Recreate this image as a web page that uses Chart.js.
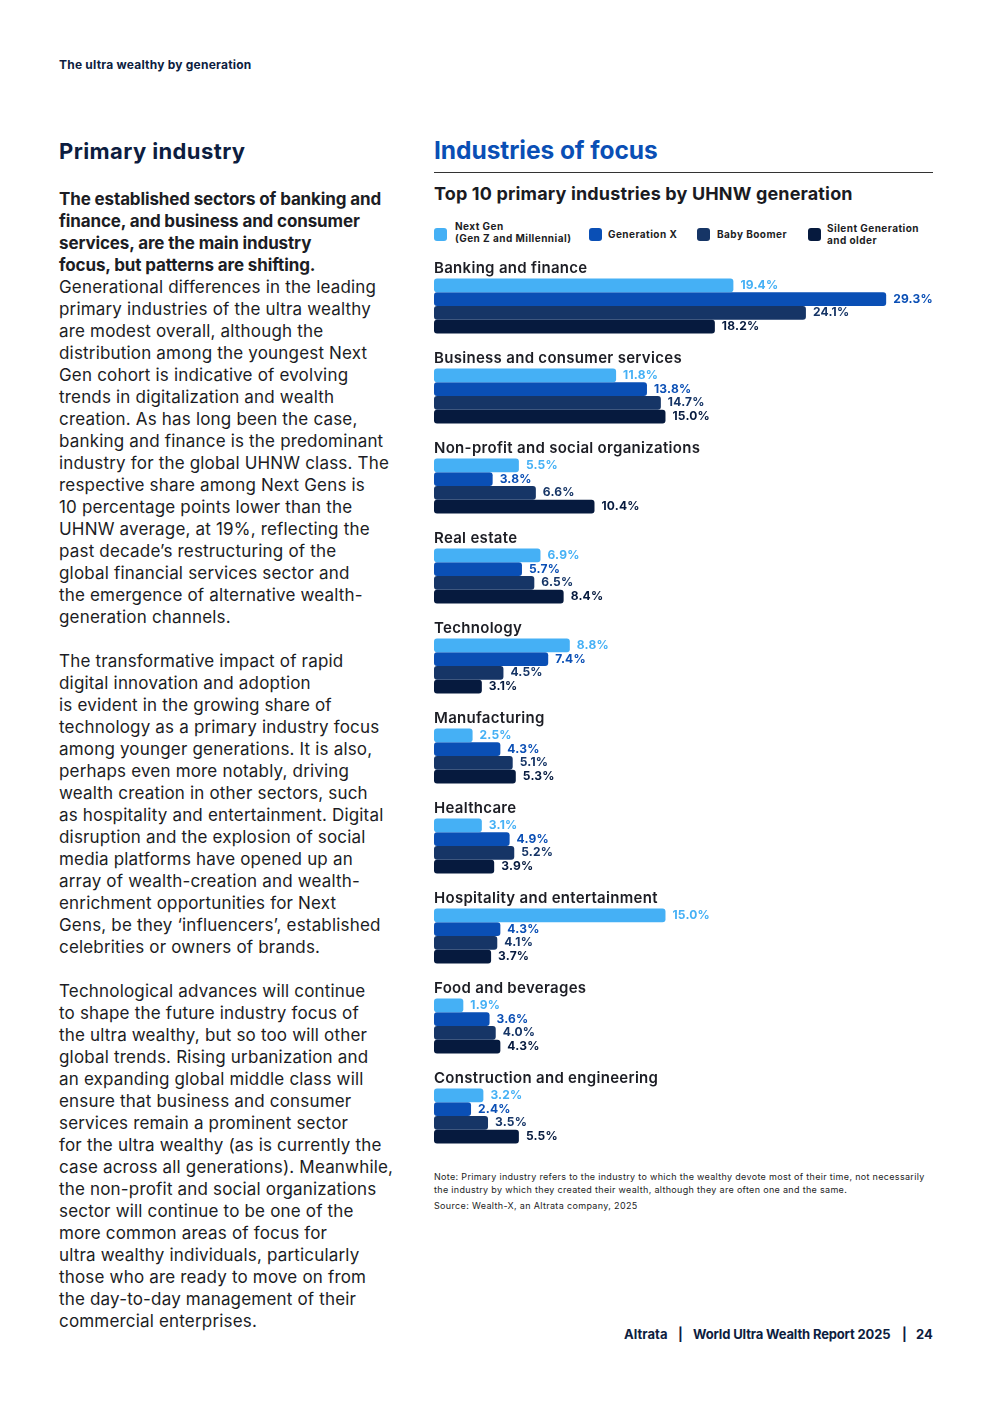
<!DOCTYPE html>
<html>
<head>
<meta charset="utf-8">
<script src="https://cdn.jsdelivr.net/npm/chart.js@4.4.1/dist/chart.umd.min.js"></script>
<style>
  html,body{margin:0;padding:0;background:#fff;}
  body{width:992px;height:1403px;position:relative;font-family:Inter,"Noto Sans",sans-serif;color:#1c1d24;overflow:hidden;}
  .abs{position:absolute;white-space:nowrap;}
  #hdr{left:59px;top:57px;font-size:12px;font-weight:700;color:#0d1d40;letter-spacing:0.22px;}
  #h1{left:59px;top:138px;font-size:22px;font-weight:700;color:#0d1d40;letter-spacing:0.4px;}
  #body{left:59px;top:188px;font-size:17px;line-height:22px;letter-spacing:0.18px;color:#1c1d24;}
  #body b{font-weight:700;color:#1c1d24;letter-spacing:-0.13px;}
  #h2{left:434px;top:135px;font-size:24.5px;font-weight:700;color:#0a4fb5;letter-spacing:-0.05px;}
  #rule{left:434px;top:172px;width:499px;height:1px;background:#333;}
  #h3{left:434px;top:183px;font-size:18px;font-weight:700;color:#1a1b22;letter-spacing:0.15px;}
  .lg{position:absolute;top:228px;width:13px;height:13px;border-radius:3px;}
  .lt{position:absolute;font-size:10px;font-weight:700;line-height:12px;color:#1c1d24;white-space:nowrap;letter-spacing:0.45px;}
  #note{left:434px;top:1171px;font-size:9px;line-height:12.5px;color:#1c1d24;letter-spacing:0.32px;}
  #src{left:434px;top:1200px;font-size:9px;color:#1c1d24;letter-spacing:0.34px;}
  #foot{left:624px;top:1326px;font-size:13px;font-weight:700;color:#0d1d40;letter-spacing:0.05px;}
  #foot span{position:absolute;top:0;white-space:nowrap;}
  #chartwrap{position:absolute;left:434px;top:250px;width:500px;height:915px;}
</style>
</head>
<body>
<div class="abs" id="hdr">The ultra wealthy by generation</div>
<div class="abs" id="h1">Primary industry</div>
<div class="abs" id="body"><b>The established sectors of banking and<br>finance, and business and consumer<br>services, are the main industry<br>focus, but patterns are shifting.</b><br>Generational differences in the leading<br>primary industries of the ultra wealthy<br>are modest overall, although the<br>distribution among the youngest Next<br>Gen cohort is indicative of evolving<br>trends in digitalization and wealth<br>creation. As has long been the case,<br>banking and finance is the predominant<br>industry for the global UHNW class. The<br>respective share among Next Gens is<br>10 percentage points lower than the<br>UHNW average, at 19%, reflecting the<br>past decade’s restructuring of the<br>global financial services sector and<br>the emergence of alternative wealth-<br>generation channels.<br><br>The transformative impact of rapid<br>digital innovation and adoption<br>is evident in the growing share of<br>technology as a primary industry focus<br>among younger generations. It is also,<br>perhaps even more notably, driving<br>wealth creation in other sectors, such<br>as hospitality and entertainment. Digital<br>disruption and the explosion of social<br>media platforms have opened up an<br>array of wealth-creation and wealth-<br>enrichment opportunities for Next<br>Gens, be they ‘influencers’, established<br>celebrities or owners of brands.<br><br>Technological advances will continue<br>to shape the future industry focus of<br>the ultra wealthy, but so too will other<br>global trends. Rising urbanization and<br>an expanding global middle class will<br>ensure that business and consumer<br>services remain a prominent sector<br>for the ultra wealthy (as is currently the<br>case across all generations). Meanwhile,<br>the non-profit and social organizations<br>sector will continue to be one of the<br>more common areas of focus for<br>ultra wealthy individuals, particularly<br>those who are ready to move on from<br>the day-to-day management of their<br>commercial enterprises.</div>

<div class="abs" id="h2">Industries of focus</div>
<div class="abs" id="rule"></div>
<div class="abs" id="h3">Top 10 primary industries by UHNW generation</div>

<div class="lg" style="left:434px;background:#45b0f5"></div>
<div class="lt" style="left:455px;top:220px">Next Gen<br>(Gen Z and Millennial)</div>
<div class="lg" style="left:589px;background:#0a4fb5"></div>
<div class="lt" style="left:608px;top:228px">Generation X</div>
<div class="lg" style="left:697px;background:#163566"></div>
<div class="lt" style="left:717px;top:228px">Baby Boomer</div>
<div class="lg" style="left:808px;background:#061a3e"></div>
<div class="lt" style="left:827px;top:222px">Silent Generation<br>and older</div>

<div id="chartwrap"><canvas id="c"></canvas></div>

<div class="abs" id="note">Note: Primary industry refers to the industry to which the wealthy devote most of their time, not necessarily<br>the industry by which they created their wealth, although they are often one and the same.</div>
<div class="abs" id="src">Source: Wealth-X, an Altrata company, 2025</div>
<div class="abs" id="foot"><span style="left:0">Altrata</span><span style="left:54px">|</span><span style="left:69px;letter-spacing:-0.15px">World Ultra Wealth Report 2025</span><span style="left:278px">|</span><span style="left:292px">24</span></div>

<script>
const categories = [
  "Banking and finance",
  "Business and consumer services",
  "Non-profit and social organizations",
  "Real estate",
  "Technology",
  "Manufacturing",
  "Healthcare",
  "Hospitality and entertainment",
  "Food and beverages",
  "Construction and engineering"
];
const seriesNames = ["Next Gen (Gen Z and Millennial)", "Generation X", "Baby Boomer", "Silent Generation and older"];
const nextGen   = [19.4, 11.8, 5.5, 6.9, 8.8, 2.5, 3.1, 15.0, 1.9, 3.2];
const genX      = [29.3, 13.8, 3.8, 5.7, 7.4, 4.3, 4.9, 4.3, 3.6, 2.4];
const babyBoom  = [24.1, 14.7, 6.6, 6.5, 4.5, 5.1, 5.2, 4.1, 4.0, 3.5];
const silentGen = [18.2, 15.0, 10.4, 8.4, 3.1, 5.3, 3.9, 3.7, 4.3, 5.5];

const barColors   = ["#45b0f5", "#0a4fb5", "#163566", "#061a3e"];
const labelColors = ["#45b0f5", "#0a4fb5", "#163566", "#061a3e"];
const seriesData = [nextGen, genX, babyBoom, silentGen];

const labelsPlugin = {
  id: "labelsPlugin",
  afterDatasetsDraw(chart) {
    const ctx = chart.ctx;
    const yScale = chart.scales.y;
    const area = chart.chartArea;
    ctx.save();
    ctx.font = "600 15px Inter, 'Noto Sans', sans-serif";
    if ('letterSpacing' in ctx) ctx.letterSpacing = "0.3px";
    ctx.fillStyle = "#1c1d24";
    ctx.textAlign = "left";
    ctx.textBaseline = "middle";
    const slot = (area.bottom - area.top) / categories.length;
    categories.forEach((c, i) => {
      const yc = yScale.getPixelForValue(i);
      ctx.fillText(c, area.left, yc - slot / 2 + 7.5);
    });
    ctx.font = "700 12px Inter, 'Noto Sans', sans-serif";
    if ('letterSpacing' in ctx) ctx.letterSpacing = "0.2px";
    chart.data.datasets.forEach((ds, di) => {
      const meta = chart.getDatasetMeta(di);
      ctx.fillStyle = labelColors[di];
      meta.data.forEach((bar, i) => {
        ctx.fillText(ds.data[i].toFixed(1) + "%", bar.x + 7, bar.y);
      });
    });
    ctx.restore();
  }
};

new Chart(document.getElementById("c"), {
  type: "bar",
  data: {
    labels: categories,
    datasets: seriesData.map((d, i) => ({
      label: seriesNames[i],
      data: d,
      backgroundColor: barColors[i],
      borderRadius: 3,
      borderSkipped: false,
      categoryPercentage: 0.611,
      barPercentage: 0.99
    }))
  },
  options: {
    indexAxis: "y",
    responsive: true,
    maintainAspectRatio: false,
    animation: false,
    layout: { padding: { top: 11, bottom: 4, left: 0, right: 0 } },
    plugins: { legend: { display: false }, tooltip: { enabled: false } },
    scales: {
      x: { display: false, min: 0, max: 32.4 },
      y: { display: false }
    }
  },
  plugins: [labelsPlugin]
});
</script>
</body>
</html>
